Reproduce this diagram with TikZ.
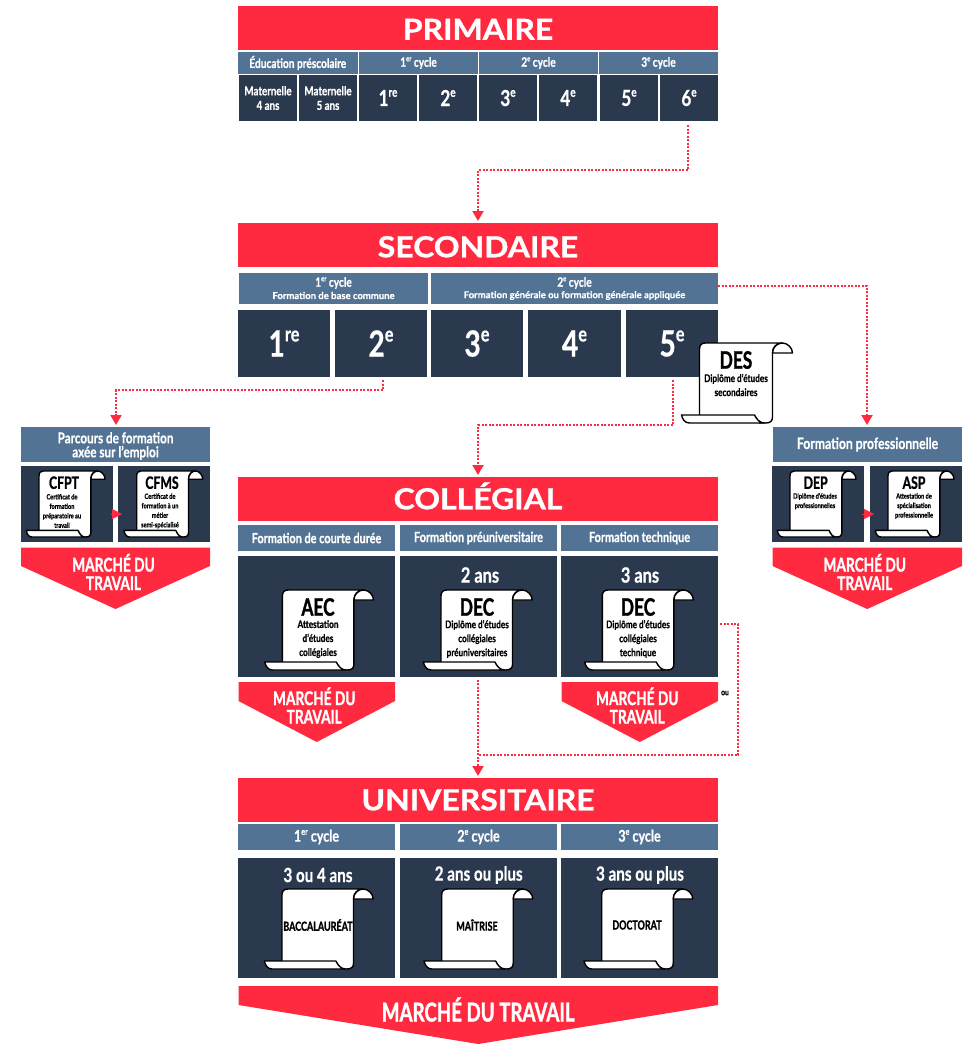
\documentclass[tikz,border=0pt]{standalone}
\usepackage{fontspec}
\usetikzlibrary{arrows.meta,calc}
\setmainfont{Lato}
\newfontfamily\cond[FakeStretch=.78,BoldFeatures={FakeBold=.6}]{Lato}
\newfontfamily\wide[BoldFeatures={FakeBold=.6}]{Lato}
\newfontfamily\heavy[FakeStretch=.72,BoldFeatures={FakeBold=1.2}]{Lato}
\newfontfamily\titlef[FakeStretch=1.1,BoldFeatures={FakeBold=1}]{Lato}
\definecolor{redc}{HTML}{FF2A40}
\definecolor{navyc}{HTML}{2B394F}
\definecolor{bluec}{HTML}{527394}
\makeatletter
\newcommand\supx[1]{{\pgfmathsetmacro\tmpfs{.58*\f@size}\raisebox{.42em}{\fontsize{\tmpfs}{\tmpfs}\selectfont #1}}}
\newcommand\fsz[1]{\fontsize{#1}{#1}\selectfont}
\makeatother
\tikzset{
  boxbase/.style={inner sep=0pt,outer sep=0pt,align=center,text=white,font=\cond\bfseries},
  titlebar/.style={boxbase,fill=redc,font=\titlef\bfseries\fsz{29},text height=20.5pt,text depth=0pt},
  headbox/.style={boxbase,fill=bluec,font=\cond\bfseries\fsz{14}},
  cellbox/.style={boxbase,fill=navyc},
  dotline/.style={draw=redc,line width=2pt,dash pattern=on 2pt off 1.5pt},
  link/.style={dotline,-{Triangle[length=10pt,width=11pt,fill=redc]},shorten >=2pt},
  hop/.style={draw=redc,line width=.1pt,-{Triangle[length=10pt,width=10pt,fill=redc]}},
  scrollpart/.style={fill=white,draw=black,line width=1.4pt,line join=round},
  marketfill/.style={fill=redc},
  markettext/.style={inner sep=0pt,align=center,text=white,font=\heavy\bfseries\fsz{19}},
  stitle/.style={inner sep=0pt,text=black,font=\heavy\bfseries},
  sbody/.style={inner sep=0pt,align=center,text=black,font=\cond\bfseries},
  free/.style={inner sep=0pt,text=white,font=\cond\bfseries\fsz{21}}
}
% \bx{style}{name}{x1}{y1}{x2}{y2}{text}
\newcommand\bx[7]{%
  \pgfmathsetmacro\bxw{#5-#3}\pgfmathsetmacro\bxh{#6-#4}%
  \pgfmathsetmacro\bxx{(#5+#3)/2}\pgfmathsetmacro\bxy{(#6+#4)/2}%
  \node[#1,minimum width=\bxw pt,minimum height=\bxh pt] (#2) at (\bxx,\bxy) {#7};}
% \scrollsheet{x}{y}{xscale}{yscale}
\newcommand\scrollsheet[4]{%
  \begin{scope}[shift={(#1,#2)},xscale=#3,yscale=#4]
    \path[scrollpart] (0,74) -- (0,6) .. controls (0,2) and (2,0) .. (6,0) -- (83,0)
      .. controls (77,0) and (73,4) .. (73,10) -- (73,74)
      .. controls (73,78) and (71,80) .. (66,80) -- (60,80) -- (55,73) -- cycle;
    \path[scrollpart] (73,10) .. controls (73,4) and (78,0) .. (83,0)
      .. controls (88,0) and (93,5) .. (93,10) -- cycle;
    \path[scrollpart] (-18,72) -- (55,72) .. controls (57,76) and (60,80) .. (65,80)
      -- (-10,80) .. controls (-15,80) and (-17,76) .. (-18,72) -- cycle;
  \end{scope}}
% \market{name}{x1}{x2}{y1}{y2}{y3}{ytext}{dx}{text}
\newcommand\market[9]{%
  \pgfmathsetmacro\mkm{(#2+#3)/2}\pgfmathsetmacro\mkt{\mkm+#8}%
  \fill[marketfill] (#2,#4) -- (#3,#4) -- (#3,#5) -- (\mkm,#6) -- (#2,#5) -- cycle;
  \node[markettext] (#1) at (\mkt,#7) {#9};}
\begin{document}
\begin{tikzpicture}[x=1pt,y=-1pt]
\useasboundingbox (0,0) rectangle (968,1044);
%% PRIMAIRE
\bx{titlebar}{prim}{238}{6}{718}{50}{\raisebox{-1.5pt}{PRIMAIRE}}
\bx{headbox,font=\cond\bfseries\fsz{13}}{ph0}{238}{52}{357.5}{74}{Éducation préscolaire}
\bx{headbox,font=\cond\bfseries\fsz{13}}{ph1}{359}{52}{478}{74}{1\supx{er} cycle}
\bx{headbox,font=\cond\bfseries\fsz{13}}{ph2}{479}{52}{598}{74}{2\supx{e} cycle}
\bx{headbox,font=\cond\bfseries\fsz{13}}{ph3}{599}{52}{718}{74}{3\supx{e} cycle}
\bx{cellbox,font=\cond\bfseries\fsz{12.5}}{pm4}{239}{75}{297}{121}{Maternelle\\[2pt]4 ans}
\bx{cellbox,font=\cond\bfseries\fsz{12.5}}{pm5}{299}{75}{357}{121}{Maternelle\\[2pt]5 ans}
\bx{cellbox,font=\cond\bfseries\fsz{22}}{p1}{359}{75}{417}{121}{1\supx{re}}
\bx{cellbox,font=\cond\bfseries\fsz{22}}{p2}{419}{75}{477}{121}{2\supx{e}}
\bx{cellbox,font=\cond\bfseries\fsz{22}}{p3}{479}{75}{537}{121}{3\supx{e}}
\bx{cellbox,font=\cond\bfseries\fsz{22}}{p4}{539}{75}{597}{121}{4\supx{e}}
\bx{cellbox,font=\cond\bfseries\fsz{22}}{p5}{600}{75}{658}{121}{5\supx{e}}
\bx{cellbox,font=\cond\bfseries\fsz{22}}{p6}{660}{75}{718}{121}{6\supx{e}}
%% SECONDAIRE
\bx{titlebar}{sec}{238}{223}{718}{267}{\raisebox{-2pt}{SECONDAIRE}}
\bx{headbox}{sh1}{239}{273}{428}{304}{}
\bx{headbox}{sh2}{431}{273}{718}{304}{}
\node[boxbase,font=\cond\bfseries\fsz{13}] (sh1a) at (333.5,283) {1\supx{er} cycle};
\node[boxbase,font=\wide\bfseries\fsz{9.5}] (sh1b) at (333.5,295.5) {Formation de base commune};
\node[boxbase,font=\cond\bfseries\fsz{13}] (sh2a) at (574.5,283) {2\supx{e} cycle};
\node[boxbase,font=\wide\bfseries\fsz{9.5}] (sh2b) at (574.5,295.5) {Formation générale ou formation générale appliquée};
\bx{cellbox,font=\cond\bfseries\fsz{36}}{s1}{238}{310}{330}{377}{1\supx{re}}
\bx{cellbox,font=\cond\bfseries\fsz{36}}{s2}{335}{310}{427}{377}{2\supx{e}}
\bx{cellbox,font=\cond\bfseries\fsz{36}}{s3}{431}{310}{523}{377}{3\supx{e}}
\bx{cellbox,font=\cond\bfseries\fsz{36}}{s4}{528}{310}{621}{377}{4\supx{e}}
\bx{cellbox,font=\cond\bfseries\fsz{36}}{s5}{626}{310}{718}{377}{5\supx{e}}
\scrollsheet{699.5}{343}{1}{1}
\node[stitle,font=\heavy\bfseries\fsz{24}] (des) at (736,360) {DES};
\node[sbody,font=\cond\bfseries\fsz{10.5}] (desb) at (736,385) {Diplôme d’études\\[3.5pt]secondaires};
%% Parcours
\bx{headbox}{par}{21}{427}{210}{462}{}
\node[boxbase,font=\cond\bfseries\fsz{15}] (part) at (115.5,446) {Parcours de formation\\[-1pt]axée sur l’emploi};
\bx{cellbox}{cfptc}{21}{466}{113}{542}{}
\bx{cellbox}{cfmsc}{118}{466}{210}{542}{}
\scrollsheet{39}{471}{.71}{.825}
\scrollsheet{136.7}{471}{.71}{.825}
\node[stitle,font=\heavy\bfseries\fsz{17}] (cfpt) at (64,482.7) {CFPT};
\node[stitle,font=\heavy\bfseries\fsz{17}] (cfms) at (162,482.7) {CFMS};
\node[sbody,font=\cond\bfseries\fsz{7.2}] (cfptb) at (62,511) {Certificat de\\[2.3pt]formation\\[2.3pt]préparatoire au\\[2.3pt]travail};
\node[sbody,font=\cond\bfseries\fsz{7.2}] (cfmsb) at (160,511) {Certificat de\\[2.3pt]formation à un\\[2.3pt]métier\\[2.3pt]semi-spécialisé};
\market{mk1}{21}{210}{547.5}{566}{609}{572}{-2}{MARCHÉ DU\\[-.5pt]TRAVAIL}
%% Formation professionnelle
\bx{headbox,font=\cond\bfseries\fsz{15.6}}{fp}{773}{427}{962}{462}{Formation professionnelle}
\bx{cellbox}{depc}{772}{466}{864}{542}{}
\bx{cellbox}{aspc}{870}{466}{962}{542}{}
\scrollsheet{790}{471}{.71}{.825}
\scrollsheet{888}{471}{.71}{.825}
\node[stitle,font=\heavy\bfseries\fsz{17}] (dep) at (815.7,482.7) {DEP};
\node[stitle,font=\heavy\bfseries\fsz{17}] (asp) at (914,482.7) {ASP};
\node[sbody,font=\cond\bfseries\fsz{7.2}] (depb) at (815,501.2) {Diplôme d’études\\[2.3pt]professionnelles};
\node[sbody,font=\cond\bfseries\fsz{7.2}] (aspb) at (914,506) {Attestation de\\[2.3pt]spécialisation\\[2.3pt]professionnelle};
\market{mk2}{772.5}{962}{547.5}{566}{609}{572}{-2.5}{MARCHÉ DU\\[-.5pt]TRAVAIL}
%% COLLEGIAL
\bx{titlebar}{col}{238}{477}{718}{521}{COLLÉGIAL}
\bx{headbox}{ch1}{238}{525}{395}{551}{Formation de courte durée}
\bx{headbox}{ch2}{400}{525}{557}{551}{Formation préuniversitaire}
\bx{headbox}{ch3}{561}{525}{718}{551}{Formation technique}
\bx{cellbox}{cc1}{238}{556}{395}{676.5}{}
\bx{cellbox}{cc2}{400}{556}{557}{676.5}{}
\bx{cellbox}{cc3}{561}{556}{718}{676.5}{}
\node[free] (c2ans) at (480,575) {2 ans};
\node[free] (c3ans) at (640,575) {3 ans};
\scrollsheet{282.4}{590}{.98}{1}
\scrollsheet{441}{590}{.98}{1}
\scrollsheet{602.3}{590}{.98}{1}
\node[stitle,font=\heavy\bfseries\fsz{24}] (aec) at (318,607) {AEC};
\node[stitle,font=\heavy\bfseries\fsz{24}] (dec2) at (477,607) {DEC};
\node[stitle,font=\heavy\bfseries\fsz{24}] (dec3) at (638,607) {DEC};
\node[sbody,font=\cond\bfseries\fsz{10.5}] (aecb) at (318,639) {Attestation\\[3.5pt]d’études\\[3.5pt]collégiales};
\node[sbody,font=\cond\bfseries\fsz{10.5}] (dec2b) at (477,639) {Diplôme d’études\\[3.5pt]collégiales\\[3.5pt]préuniversitaires};
\node[sbody,font=\cond\bfseries\fsz{10.5}] (dec3b) at (638,639) {Diplôme d’études\\[3.5pt]collégiales\\[3.5pt]technique};
\market{mk3}{238.5}{395}{682}{701}{742}{705.5}{-2.5}{MARCHÉ DU\\[-.5pt]TRAVAIL}
\market{mk4}{561.5}{718}{682}{701}{742}{705.5}{-2.5}{MARCHÉ DU\\[-.5pt]TRAVAIL}
\node[inner sep=0pt,text=black,font=\cond\bfseries\fsz{8.5}] (ou) at (725,693) {ou};
%% UNIVERSITAIRE
\bx{titlebar}{uni}{238}{778}{718}{822}{UNIVERSITAIRE}
\bx{headbox,font=\cond\bfseries\fsz{16}}{uh1}{238}{824}{395}{850}{\raisebox{-1.5pt}{1\supx{er} cycle}}
\bx{headbox,font=\cond\bfseries\fsz{16}}{uh2}{400}{824}{557}{850}{\raisebox{-1.5pt}{2\supx{e} cycle}}
\bx{headbox,font=\cond\bfseries\fsz{16}}{uh3}{561}{824}{718}{850}{\raisebox{-1.5pt}{3\supx{e} cycle}}
\bx{cellbox}{uc1}{238}{858}{395}{978}{}
\bx{cellbox}{uc2}{400}{858}{557}{978}{}
\bx{cellbox}{uc3}{561}{858}{718}{978}{}
\node[free,font=\cond\bfseries\fsz{19.5}] (u1y) at (318,875) {3 ou 4 ans};
\node[free,font=\cond\bfseries\fsz{19.5}] (u2y) at (478.7,875) {2 ans ou plus};
\node[free,font=\cond\bfseries\fsz{19.5}] (u3y) at (640,875) {3 ans ou plus};
\scrollsheet{282}{889}{.98}{1}
\scrollsheet{441.7}{889}{.98}{1}
\scrollsheet{601.7}{889}{.98}{1}
\node[stitle,font=\heavy\bfseries\fsz{12.5}] (bac) at (318,925) {BACCALAURÉAT};
\node[stitle,font=\heavy\bfseries\fsz{12.5}] (mai) at (477,925) {MAÎTRISE};
\node[stitle,font=\heavy\bfseries\fsz{12.5}] (doc) at (637,925) {DOCTORAT};
\market{mk5}{238.5}{718}{986}{1005}{1044}{1009.5}{0}{\fsz{26}MARCHÉ DU TRAVAIL}
%% Connectors
\coordinate (k1) at (478,170);
\coordinate (k2) at (116,390);
\coordinate (k3) at (478,425);
\coordinate (k4) at (867,286);
\coordinate (k5) at (478,755);
\coordinate (k6) at (738,624);
\coordinate (k7) at (720,624);
\coordinate (k8) at (738,755);
\draw[link] ([xshift=-1pt,yshift=-4pt]p6.south) |- (k1) -- (sec.north);
\draw[link] ([xshift=2pt,yshift=-3pt]s2.south) |- (k2) -- (par.north-|k2);
\draw[link] ([xshift=1pt,yshift=-3pt]s5.south) |- (k3) -- (col.north);
\draw[link] (sh2.east|-k4) -- (k4) -- (k4|-fp.north);
\draw[link] ([yshift=-3pt]cc2.south-|k5) -- (uni.north-|k5);
\draw[dotline] (k7) -- (k6) -- (k8) -- (k5);
\draw[hop] ([xshift=-2pt,yshift=-10pt]cfptc.east) -- ([xshift=4pt,yshift=-10pt]cfmsc.west);
\draw[hop] ([xshift=-2pt,yshift=-10pt]depc.east) -- ([xshift=4pt,yshift=-10pt]aspc.west);
\end{tikzpicture}
\end{document}
